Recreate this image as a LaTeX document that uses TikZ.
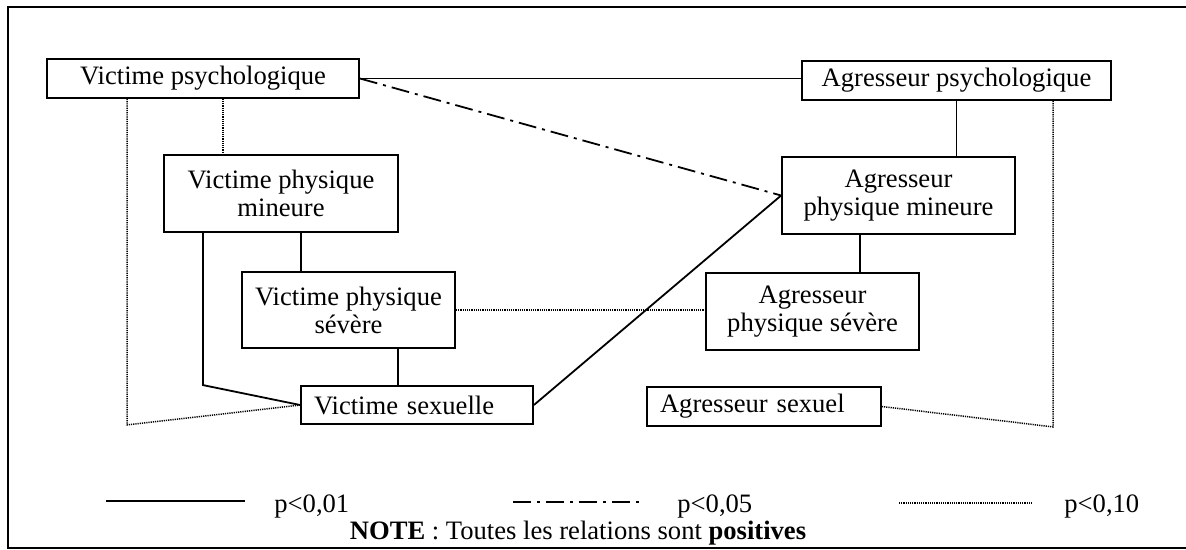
\documentclass[tikz,border=0pt]{standalone}
\usepackage{fontspec}
\setmainfont{Liberation Serif}
\begin{document}
\begin{tikzpicture}[x=0.5pt,y=-0.5pt,
  box/.style={draw, line width=0.9pt, align=center, inner sep=0pt,
    font=\fontsize{13.3}{14}\selectfont},
  leftbox/.style={box, align=left, inner xsep=6.5pt},
  strong/.style={line width=0.9pt},
  weak/.style={line width=0.75pt, dash pattern=on 0.6pt off 0.5pt},
  mid/.style={line width=0.9pt, dash pattern=on 9pt off 3pt on 1.5pt off 3pt},
  legendtext/.style={font=\fontsize{13.3}{14}\selectfont, inner sep=0pt, anchor=base west},
  frame/.style={line width=1pt}
]
\useasboundingbox (0,0) rectangle (1186,550);

% outer frame (open on the right)
\coordinate (fa) at (1186,7);
\coordinate (fb) at (8,7);
\coordinate (fc) at (8,548);
\coordinate (fd) at (1186,548);
\draw[frame] (fa) -- (fb) -- (fc) -- (fd);

% variables
\node[box, minimum width=156pt, minimum height=19.5pt] (vp) at (203,78.5) {Victime psychologique};
\node[box, minimum width=154.5pt, minimum height=19.5pt] (ap) at (956.5,80.5) {Agresseur psychologique};
\node[box, minimum width=117pt, minimum height=38.5pt] (vpm) at (281,193.5) {Victime physique\\mineure};
\node[box, minimum width=116.5pt, minimum height=38.5pt] (apm) at (898.5,195.5) {Agresseur\\physique mineure};
\node[box, minimum width=106.5pt, minimum height=38pt] (vps) at (348.5,310) {Victime physique\\sévère};
\node[box, minimum width=106.5pt, minimum height=38.5pt] (aps) at (812.5,311.5) {Agresseur\\physique sévère};
\node[leftbox, text width=103pt, minimum height=19pt] (vs) at (417,405) {Victime sexuelle};
\node[leftbox, text width=104pt, minimum height=19.5pt] (agsex) at (764,406.5) {Agresseur sexuel};

% p<0,01
\draw[strong] (vp.east) -- (vp.east -| ap.west);
\draw[strong] (ap.south) -- (ap.south |- apm.north);
\draw[strong] ([xshift=-19.25pt]apm.south) -- ([xshift=-19.25pt]apm.south |- aps.north);
\draw[strong] ([xshift=10pt]vpm.south) -- ([xshift=10pt]vpm.south |- vps.north);
\draw[strong] ([xshift=24.75pt]vps.south) -- ([xshift=24.75pt]vps.south |- vs.north);
\draw[strong] (vs.east) -- (apm.west);
\draw[strong] ([xshift=-39pt]vpm.south) -- ([xshift=-39pt]vpm.south |- vs.north) -- (vs.west);

% p<0,05
\draw[mid] (vp.east) -- (apm.west);

% p<0,10
\draw[weak] ([xshift=10pt]vp.south) -- ([xshift=10pt]vp.south |- vpm.north);
\draw[weak] (vps.east) -- (vps.east -| aps.west);
\draw[weak] ([xshift=-38pt]vp.south) -- ([xshift=-38pt]vp.south |- vs.south) -- (vs.west);
\draw[weak] ([xshift=48.25pt]ap.south) -- ([xshift=48.25pt]ap.south |- agsex.south) -- (agsex.east);

% legend
\coordinate (l1a) at (106,501);
\coordinate (l1b) at (245,501);
\draw[strong] (l1a) -- (l1b);
\node[legendtext] (t1) at (274,512) {p<0,01};
\coordinate (l2a) at (513,502);
\coordinate (l2b) at (645,502);
\draw[mid] (l2a) -- (l2b);
\node[legendtext] (t2) at (677,512) {p<0,05};
\coordinate (l3a) at (899,503);
\coordinate (l3b) at (1032,503);
\draw[weak] (l3a) -- (l3b);
\node[legendtext] (t3) at (1064,512) {p<0,10};
\node[font=\fontsize{13.3}{14}\selectfont, inner sep=0pt, anchor=base] (note) at (578,539)
  {\textbf{NOTE} : Toutes les relations sont \textbf{positives}};
\end{tikzpicture}
\end{document}
